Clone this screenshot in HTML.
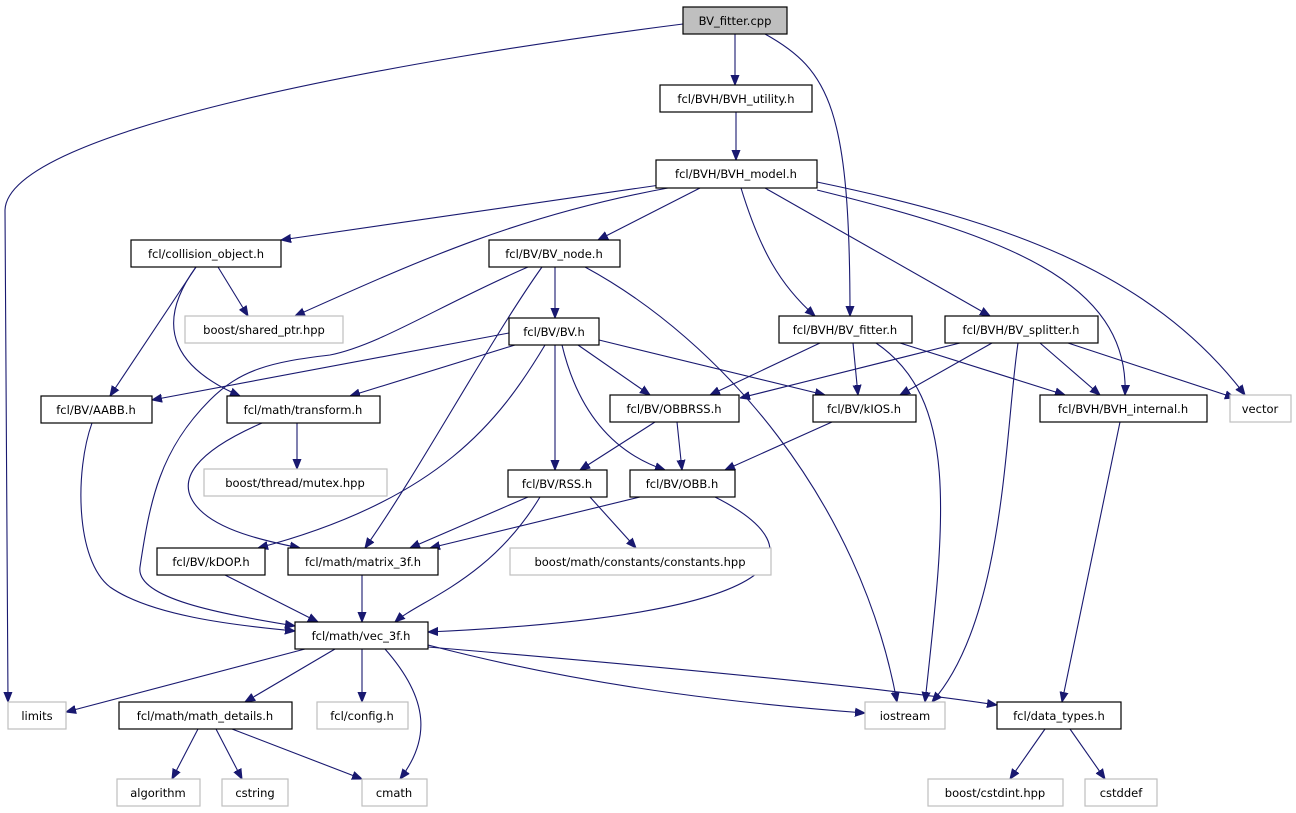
<!DOCTYPE html>
<html><head><meta charset="utf-8"><style>
html,body{margin:0;padding:0;background:#fff;width:1296px;height:813px;overflow:hidden}
svg{display:block}
text{font-family:"DejaVu Sans","Liberation Sans",sans-serif;font-size:11.5px;fill:#000}
.n{fill:#fff;stroke:#000;stroke-width:1.2}
.g{fill:#fff;stroke:#bfbfbf;stroke-width:1.2}
.r{fill:#bfbfbf;stroke:#000;stroke-width:1.2}
path{fill:none;stroke:#191970;stroke-width:1.1}
</style></head><body>
<svg width="1296" height="813" viewBox="0 0 1296 813">
<defs><marker id="a" viewBox="0 0 10 10" refX="10" refY="5" markerWidth="10" markerHeight="10" markerUnits="userSpaceOnUse" orient="auto"><path d="M0,1 L10,5 L0,9 Z" style="fill:#191970;stroke:#191970;stroke-width:1"/></marker></defs>
<g marker-end="url(#a)">
<path d="M683,24 C400,60 8,130 5,210 L8,702"/>
<path d="M735,34 L735,85"/>
<path d="M765,34 C830,70 850,110 850,316"/>
<path d="M736,112 L736,160"/>
<path d="M660,185 L281,240"/>
<path d="M668,188 C520,215 420,260 295,316"/>
<path d="M700,188 L598,240"/>
<path d="M741,188 C760,250 780,285 815,316"/>
<path d="M765,188 L990,316"/>
<path d="M817,190 C1000,235 1130,280 1125,395"/>
<path d="M817,182 C1000,220 1150,270 1245,395"/>
<path d="M196,267 L110,396"/>
<path d="M218,267 L248,316"/>
<path d="M196,267 C150,330 180,370 240,396"/>
<path d="M555,267 L555,318"/>
<path d="M528,267 C440,305 380,345 330,355 C270,362 240,370 210,400 C160,450 150,500 140,567 C135,600 230,615 295,626"/>
<path d="M542,267 C490,340 420,470 365,548"/>
<path d="M585,267 C720,340 860,500 897,702"/>
<path d="M509,333 L152,400"/>
<path d="M515,345 L350,396"/>
<path d="M545,345 C500,420 440,500 258,548"/>
<path d="M555,345 L555,470"/>
<path d="M562,345 C580,420 620,455 665,470"/>
<path d="M578,345 L650,395"/>
<path d="M599,340 L825,395"/>
<path d="M820,343 L710,395"/>
<path d="M853,343 L858,395"/>
<path d="M900,343 L1065,395"/>
<path d="M876,343 C960,400 945,520 925,702"/>
<path d="M960,343 L740,398"/>
<path d="M992,343 L900,395"/>
<path d="M1018,343 C1005,430 1005,620 932,702"/>
<path d="M1040,343 L1100,395"/>
<path d="M1068,343 L1235,398"/>
<path d="M655,422 L580,470"/>
<path d="M677,422 L682,470"/>
<path d="M832,422 L725,470"/>
<path d="M1120,422 L1062,702"/>
<path d="M297,423 L297,469"/>
<path d="M262,423 C200,450 170,480 200,510 C220,530 260,540 300,548"/>
<path d="M528,497 L410,548"/>
<path d="M540,497 C490,580 420,600 395,622"/>
<path d="M590,497 L636,548"/>
<path d="M640,497 L430,548"/>
<path d="M715,497 C820,550 800,615 428,632"/>
<path d="M92,423 C75,470 75,560 110,587 C150,615 230,625 295,631"/>
<path d="M225,575 L318,622"/>
<path d="M362,575 L362,622"/>
<path d="M305,649 L66,712"/>
<path d="M335,649 L245,702"/>
<path d="M362,649 L362,702"/>
<path d="M385,649 C430,700 430,740 400,779"/>
<path d="M428,645 C600,690 760,705 865,713"/>
<path d="M428,647 C700,670 900,690 997,705"/>
<path d="M198,729 L172,779"/>
<path d="M216,729 L242,779"/>
<path d="M232,729 L362,779"/>
<path d="M1045,729 L1010,779"/>
<path d="M1070,729 L1105,779"/>
</g>
<g>
<rect class="r" x="683" y="7" width="104" height="27"/><text x="735" y="25" text-anchor="middle">BV_fitter.cpp</text>
<rect class="n" x="660" y="85" width="152" height="27"/><text x="736" y="103" text-anchor="middle">fcl/BVH/BVH_utility.h</text>
<rect class="n" x="656" y="160" width="161" height="28"/><text x="736" y="178" text-anchor="middle">fcl/BVH/BVH_model.h</text>
<rect class="n" x="131" y="240" width="150" height="27"/><text x="206" y="258" text-anchor="middle">fcl/collision_object.h</text>
<rect class="n" x="489" y="240" width="131" height="27"/><text x="554" y="258" text-anchor="middle">fcl/BV/BV_node.h</text>
<rect class="g" x="185" y="316" width="158" height="27"/><text x="264" y="334" text-anchor="middle">boost/shared_ptr.hpp</text>
<rect class="n" x="509" y="318" width="90" height="27"/><text x="554" y="336" text-anchor="middle">fcl/BV/BV.h</text>
<rect class="n" x="779" y="316" width="133" height="27"/><text x="845" y="334" text-anchor="middle">fcl/BVH/BV_fitter.h</text>
<rect class="n" x="945" y="316" width="153" height="27"/><text x="1021" y="334" text-anchor="middle">fcl/BVH/BV_splitter.h</text>
<rect class="n" x="41" y="396" width="111" height="27"/><text x="96" y="414" text-anchor="middle">fcl/BV/AABB.h</text>
<rect class="n" x="227" y="396" width="153" height="27"/><text x="303" y="414" text-anchor="middle">fcl/math/transform.h</text>
<rect class="n" x="610" y="395" width="129" height="27"/><text x="674" y="413" text-anchor="middle">fcl/BV/OBBRSS.h</text>
<rect class="n" x="813" y="395" width="103" height="27"/><text x="864" y="413" text-anchor="middle">fcl/BV/kIOS.h</text>
<rect class="n" x="1040" y="395" width="167" height="27"/><text x="1123" y="413" text-anchor="middle">fcl/BVH/BVH_internal.h</text>
<rect class="g" x="1230" y="395" width="61" height="27"/><text x="1260" y="413" text-anchor="middle">vector</text>
<rect class="g" x="204" y="469" width="183" height="27"/><text x="295" y="487" text-anchor="middle">boost/thread/mutex.hpp</text>
<rect class="n" x="508" y="470" width="99" height="27"/><text x="557" y="488" text-anchor="middle">fcl/BV/RSS.h</text>
<rect class="n" x="630" y="470" width="105" height="27"/><text x="682" y="488" text-anchor="middle">fcl/BV/OBB.h</text>
<rect class="n" x="157" y="548" width="108" height="27"/><text x="211" y="566" text-anchor="middle">fcl/BV/kDOP.h</text>
<rect class="n" x="288" y="548" width="150" height="27"/><text x="363" y="566" text-anchor="middle">fcl/math/matrix_3f.h</text>
<rect class="g" x="510" y="548" width="261" height="27"/><text x="640" y="566" text-anchor="middle">boost/math/constants/constants.hpp</text>
<rect class="n" x="295" y="622" width="133" height="27"/><text x="361" y="640" text-anchor="middle">fcl/math/vec_3f.h</text>
<rect class="g" x="8" y="702" width="58" height="27"/><text x="37" y="720" text-anchor="middle">limits</text>
<rect class="n" x="119" y="702" width="173" height="27"/><text x="205" y="720" text-anchor="middle">fcl/math/math_details.h</text>
<rect class="g" x="317" y="702" width="91" height="27"/><text x="362" y="720" text-anchor="middle">fcl/config.h</text>
<rect class="g" x="865" y="702" width="80" height="27"/><text x="905" y="720" text-anchor="middle">iostream</text>
<rect class="n" x="997" y="702" width="124" height="27"/><text x="1059" y="720" text-anchor="middle">fcl/data_types.h</text>
<rect class="g" x="117" y="779" width="83" height="27"/><text x="158" y="797" text-anchor="middle">algorithm</text>
<rect class="g" x="222" y="779" width="66" height="27"/><text x="255" y="797" text-anchor="middle">cstring</text>
<rect class="g" x="362" y="779" width="65" height="27"/><text x="394" y="797" text-anchor="middle">cmath</text>
<rect class="g" x="928" y="779" width="135" height="27"/><text x="995" y="797" text-anchor="middle">boost/cstdint.hpp</text>
<rect class="g" x="1085" y="779" width="72" height="27"/><text x="1121" y="797" text-anchor="middle">cstddef</text>
</g>
</svg>
</body></html>
